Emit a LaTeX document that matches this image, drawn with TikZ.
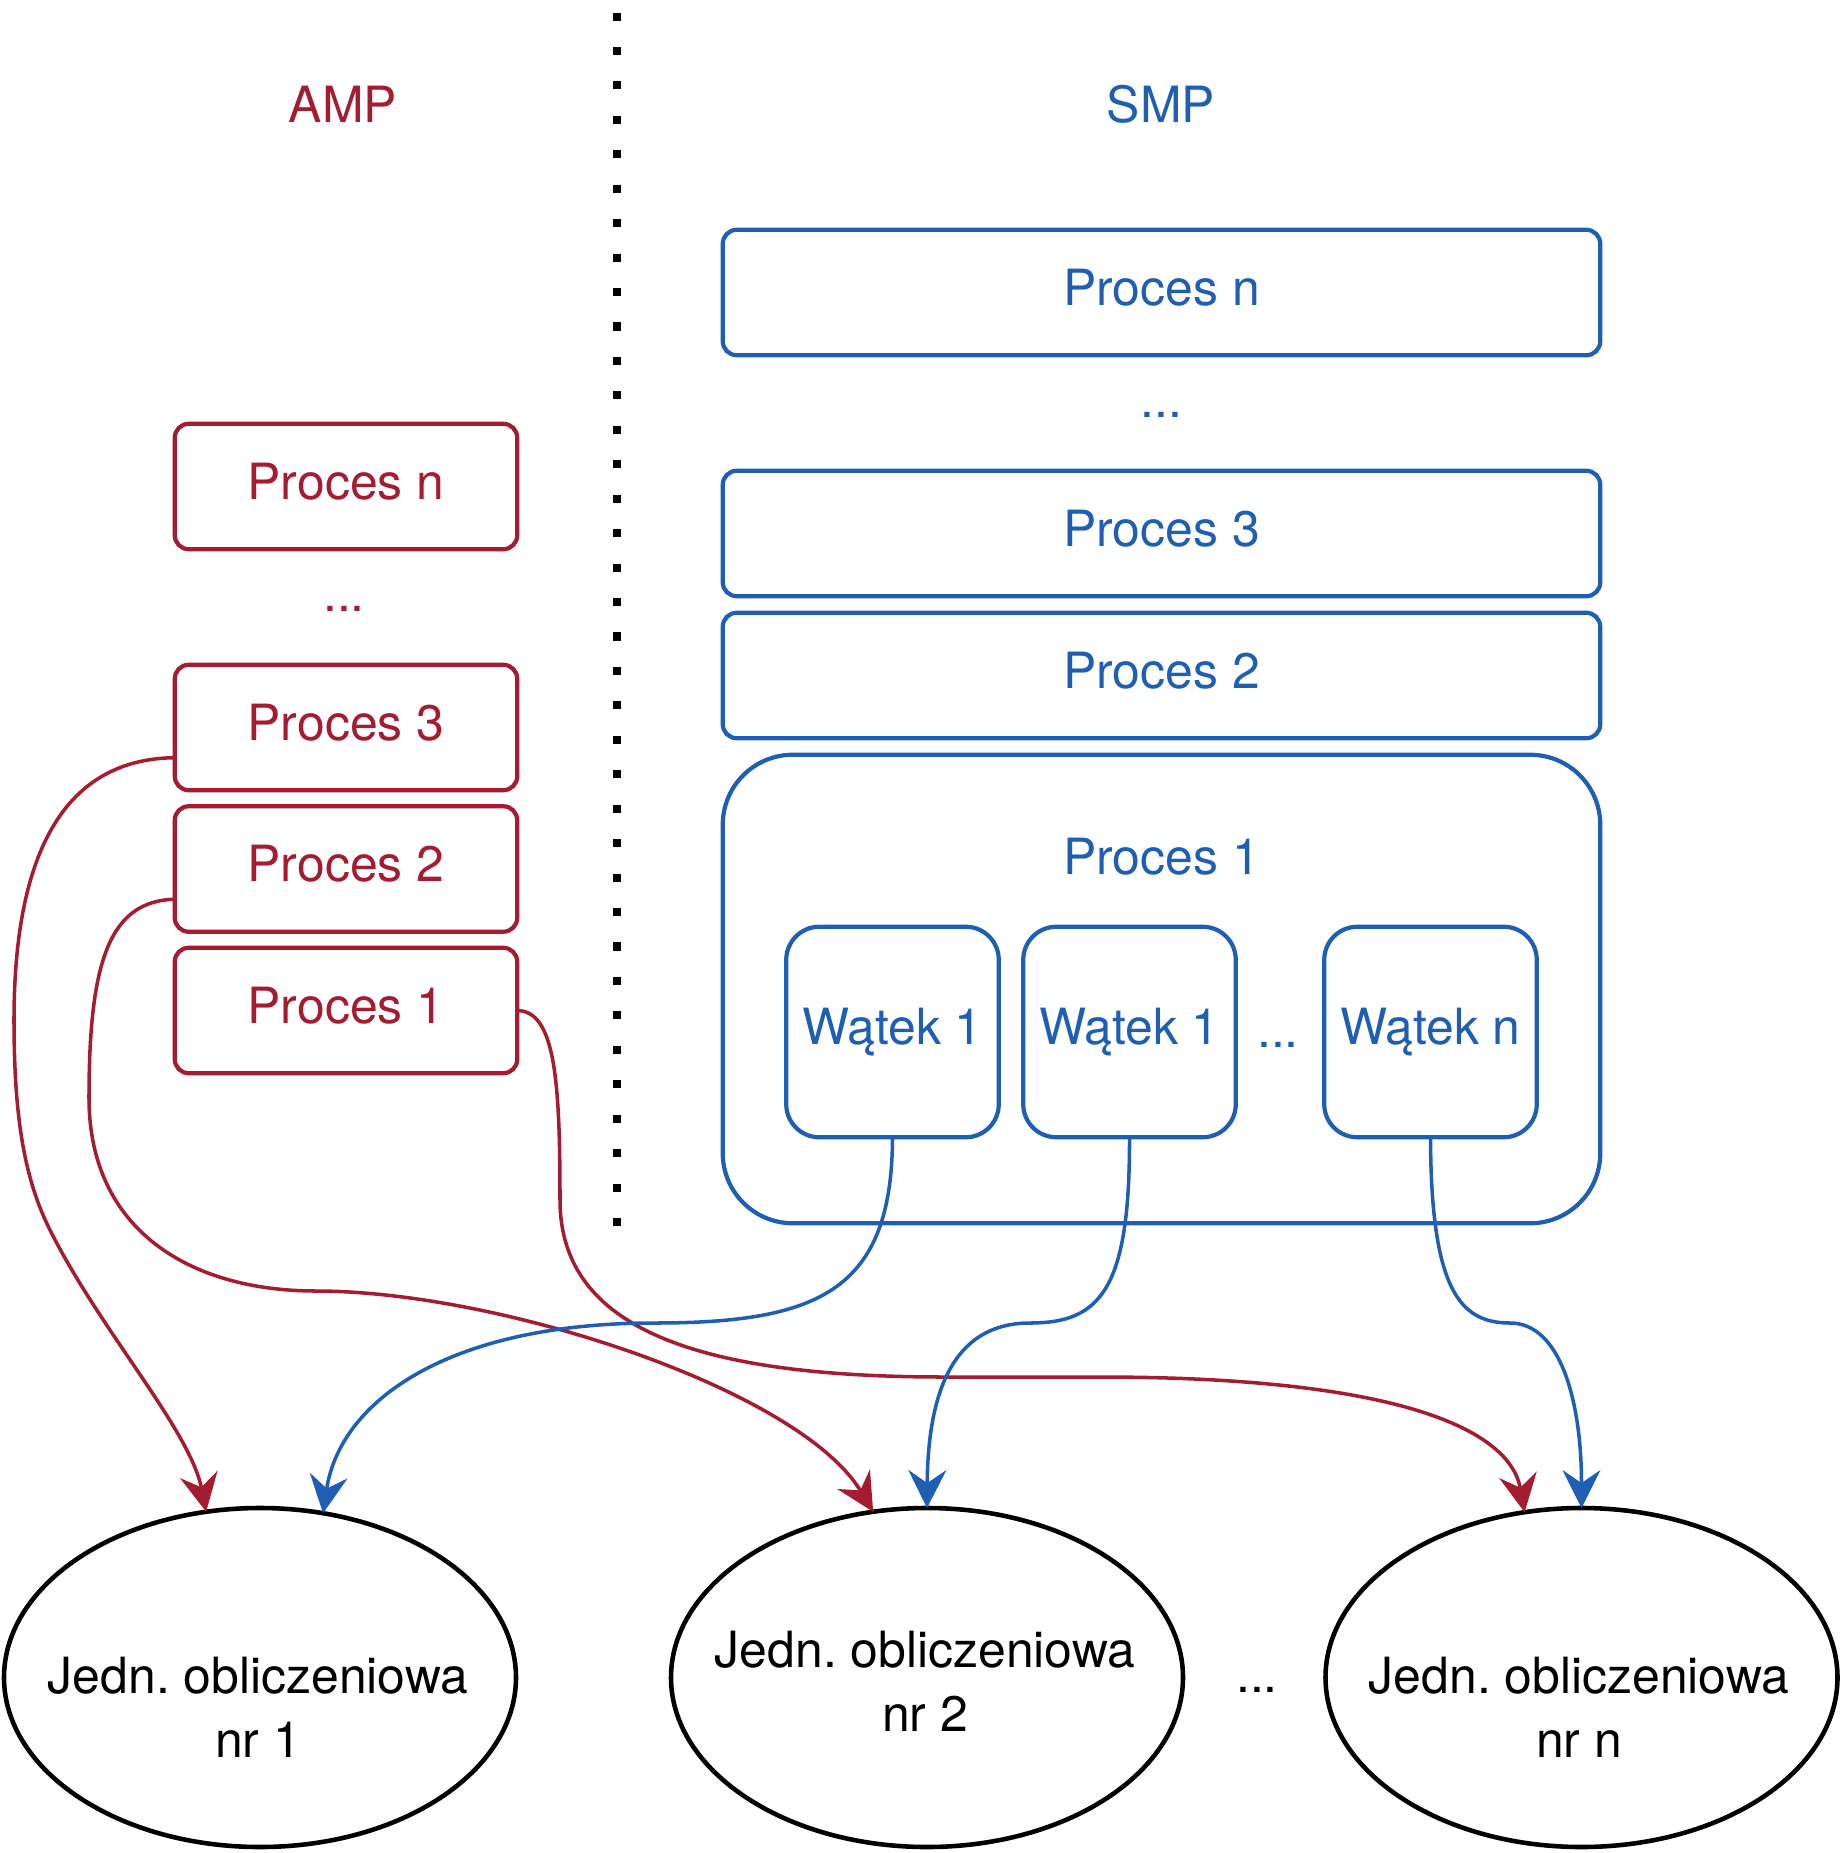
\documentclass[tikz,border=0pt]{standalone}
\usepackage{fontspec}
\setmainfont{TeX Gyre Heros}
\frenchspacing
\usepackage{tikz}
\usetikzlibrary{shapes.geometric,arrows.meta}
\definecolor{hexcolor0xa51c30}{rgb}{0.647,0.110,0.188}
\definecolor{hexcolor0x1e5fb4}{rgb}{0.118,0.373,0.706}
\definecolor{myblack}{rgb}{0.000,0.000,0.000}
\definecolor{mywhite}{rgb}{1.000,1.000,1.000}
\tikzstyle{txt}=[inner sep=0pt,outer sep=0pt,font=\fontsize{14.2}{18.2}\selectfont]
\tikzstyle{ampText}=[txt,text=hexcolor0xa51c30]
\tikzstyle{smpText}=[txt,text=hexcolor0x1e5fb4]
\tikzstyle{ampProc}=[ampText,rectangle,rounded corners=0.14cm,draw=hexcolor0xa51c30,line width=1.2pt,fill=mywhite,minimum width=3.425cm,minimum height=1.255cm,text height=0.72em,text depth=0pt]
\tikzstyle{smpProc}=[smpText,rectangle,rounded corners=0.14cm,draw=hexcolor0x1e5fb4,line width=1.2pt,fill=mywhite,minimum width=8.775cm,minimum height=1.255cm,text height=0.72em,text depth=0pt]
\tikzstyle{smpBig}=[smpProc,rounded corners=0.7cm,minimum height=4.685cm]
\tikzstyle{thread}=[smpProc,rounded corners=0.33cm,minimum width=2.125cm,minimum height=2.105cm]
\tikzstyle{unit}=[ellipse,draw=myblack,line width=1.3pt,inner sep=0pt,outer sep=0pt,minimum width=5.12cm,minimum height=3.39cm]
\tikzstyle{unitText}=[txt,text=myblack,align=center]
\tikzstyle{ampEdge}=[draw=hexcolor0xa51c30,line width=1pt,-{Stealth[length=10.8pt,width=10.8pt,inset=3.7pt]}]
\tikzstyle{smpEdge}=[draw=hexcolor0x1e5fb4,line width=1pt,-{Stealth[length=10.8pt,width=10.8pt,inset=3.7pt]}]
\begin{document}
\begin{tikzpicture}
	\useasboundingbox (0,0) rectangle (18.42,-18.53);
	% AMP side
		\node [style=ampText] (a) at (3.43, -1.04) {AMP};
		\node [style=ampProc] (0) at (3.46, -4.865) {Proces n};
		\node [style=ampText] (1) at (3.44, -6.09) {...};
		\node [style=ampProc] (2) at (3.46, -7.275) {Proces 3};
		\node [style=ampProc] (3) at (3.46, -8.69) {Proces 2};
		\node [style=ampProc] (4) at (3.46, -10.105) {Proces 1};
	% SMP side
		\node [style=smpText] (s) at (11.61, -1.04) {SMP};
		\node [style=smpProc] (5) at (11.615, -2.925) {Proces n};
		\node [style=smpText] (6) at (11.615, -4.15) {...};
		\node [style=smpProc] (7) at (11.615, -5.335) {Proces 3};
		\node [style=smpProc] (8) at (11.615, -6.755) {Proces 2};
		\node [style=smpBig] (9) at (11.615, -9.89) {};
		\node [style=smpText] (10) at (11.615, -8.57) {Proces 1};
		\node [style=thread] (11) at (8.925, -10.32) {Wątek 1};
		\node [style=thread] (12) at (11.295, -10.32) {Wątek 1};
		\node [style=smpText] (13) at (12.78, -10.45) {...};
		\node [style=thread] (14) at (14.305, -10.32) {Wątek n};
	% processing units
		\node [style=unit] (15) at (2.60, -16.775) {};
		\node [style=unit] (16) at (9.27, -16.775) {};
		\node [style=unit] (17) at (15.815, -16.775) {};
		\node [style=unitText] (18) at (2.58, -17.07) {Jedn. obliczeniowa\\nr 1};
		\node [style=unitText] (19) at (9.25, -16.81) {Jedn. obliczeniowa\\nr 2};
		\node [style=unitText] (20) at (15.79, -17.07) {Jedn. obliczeniowa\\nr n};
		\node [style=unitText] (21) at (12.57, -16.90) {...};
	% divider
	\coordinate (top) at (6.17, -0.125);
	\coordinate (bottom) at (6.17, -12.28);
	\draw [line width=2.3pt, dash pattern=on 2.3pt off 7.5pt] (top) -- (bottom);

	\draw [style=ampEdge] (2.190) .. controls (0.60, -7.59) and (0.14, -8.60) .. (0.14, -10.20) .. controls (0.14, -11.20) and (0.25, -11.80) .. (0.50, -12.30) .. controls (1.00, -13.30) and (1.90, -14.30) .. (15.108);
	\draw [style=ampEdge] (3.190) .. controls (1.10, -9.01) and (0.89, -9.60) .. (0.89, -10.98) .. controls (0.89, -12.30) and (1.90, -12.91) .. (3.16, -12.91) .. controls (5.00, -12.91) and (8.00, -13.90) .. (16.108);
	\draw [style=ampEdge] (4.east) .. controls (5.55, -10.11) and (5.60, -10.80) .. (5.60, -12.00) .. controls (5.60, -13.30) and (7.00, -13.77) .. (9.45, -13.77) -- (10.99, -13.77) .. controls (14.00, -13.77) and (15.10, -14.30) .. (17.109);
	\draw [style=smpEdge] (11.south) .. controls (8.92, -12.90) and (8.20, -13.23) .. (6.54, -13.23) .. controls (4.50, -13.23) and (3.40, -14.00) .. (15.69);
	\draw [style=smpEdge] (12.south) .. controls (11.30, -12.90) and (11.00, -13.23) .. (10.30, -13.23) .. controls (9.60, -13.23) and (9.28, -13.80) .. (16.north);
	\draw [style=smpEdge] (14.south) .. controls (14.31, -12.90) and (14.60, -13.23) .. (15.10, -13.23) .. controls (15.60, -13.23) and (15.815, -14.00) .. (17.north);
\end{tikzpicture}
\end{document}
